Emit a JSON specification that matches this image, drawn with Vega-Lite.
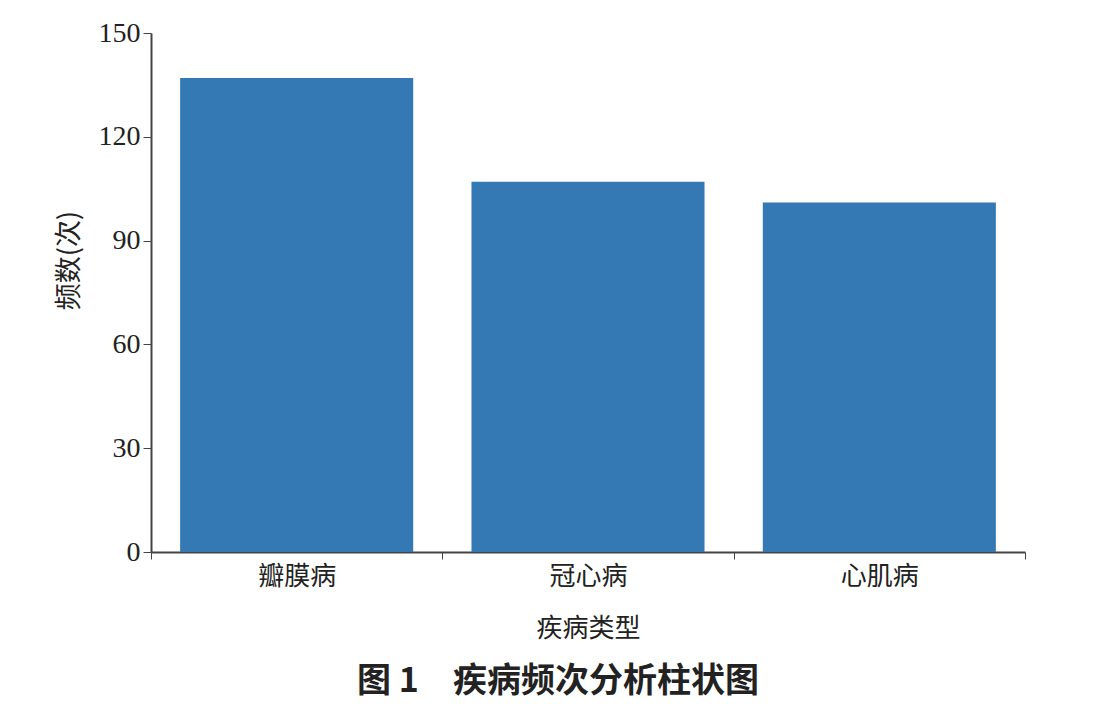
{
  "$schema": "https://vega.github.io/schema/vega-lite/v6.json",
  "autosize": "none",
  "width": 874,
  "height": 519,
  "padding": {"left": 151, "top": 33, "right": 75, "bottom": 165},
  "background": "white",
  "title": {
    "text": "图 1　疾病频次分析柱状图",
    "orient": "bottom",
    "anchor": "middle",
    "font": "Noto Sans CJK SC",
    "fontSize": 34,
    "fontWeight": "bold",
    "color": "#222222",
    "offset": 24,
    "dx": -30
  },
  "data": {
    "values": [
      {"type": "瓣膜病", "count": 137},
      {"type": "冠心病", "count": 107},
      {"type": "心肌病", "count": 101}
    ]
  },
  "mark": {"type": "bar", "color": "#3579b4", "width": {"band": 0.8}},
  "encoding": {
    "x": {
      "field": "type",
      "type": "nominal",
      "sort": null,
      "scale": {"paddingInner": 0, "paddingOuter": 0},
      "axis": {
        "title": "疾病类型",
        "titleFont": "Noto Sans CJK SC",
        "titleFontSize": 26,
        "titleFontWeight": "normal",
        "titleColor": "#222222",
        "titlePadding": 26,
        "labelFont": "Noto Sans CJK SC",
        "labelFontSize": 26,
        "labelColor": "#222222",
        "labelAngle": 0,
        "labelPadding": 4,
        "tickBand": "extent",
        "tickSize": 7,
        "tickColor": "#444444",
        "domainColor": "#444444",
        "domainWidth": 2
      }
    },
    "y": {
      "field": "count",
      "type": "quantitative",
      "scale": {"domain": [0, 150]},
      "axis": {
        "values": [0, 30, 60, 90, 120, 150],
        "title": "频数(次)",
        "titleFont": "Noto Sans CJK SC",
        "titleFontSize": 27,
        "titleFontWeight": "normal",
        "titleColor": "#222222",
        "titleX": -82,
        "titleY": 227,
        "titleAngle": -90,
        "titleBaseline": "middle",
        "labelFont": "Liberation Serif",
        "labelFontSize": 28,
        "labelColor": "#222222",
        "labelPadding": 3,
        "tickSize": 8,
        "tickColor": "#444444",
        "domainColor": "#444444",
        "domainWidth": 2,
        "grid": false
      }
    }
  },
  "config": {"view": {"stroke": null}}
}
